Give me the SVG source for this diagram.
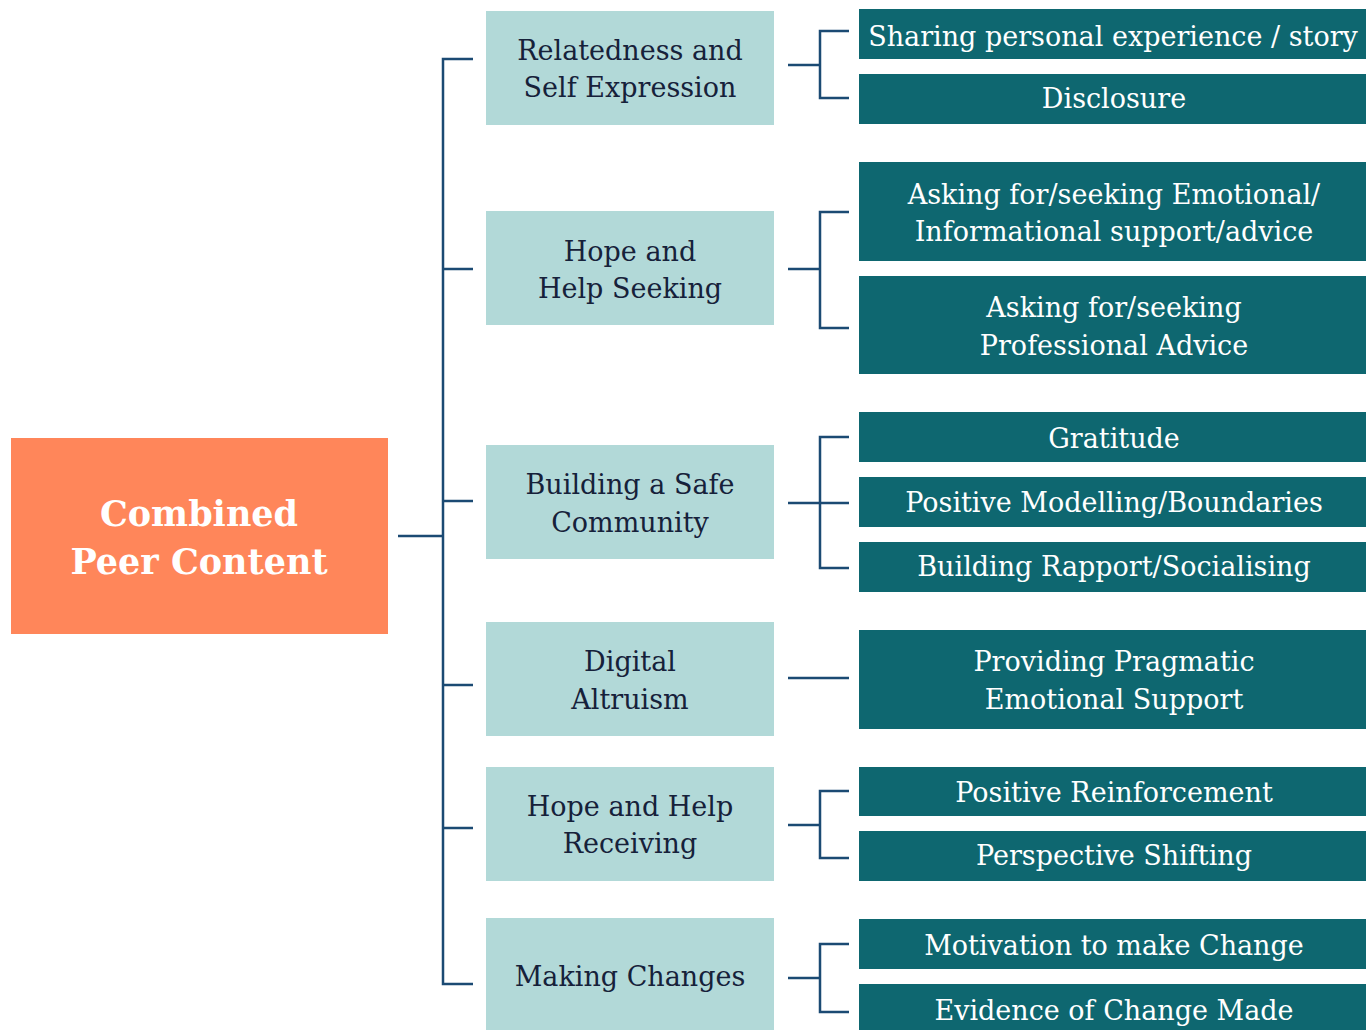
<svg xmlns="http://www.w3.org/2000/svg" width="1366" height="1030" viewBox="0 0 1366 1030">
  <style>
    .root { fill: #FF865A; }
    .cat { fill: #B2D9D8; }
    .leaf { fill: #0E6770; }
    .t { font-family: "DejaVu Serif", "Liberation Serif", serif; text-anchor: middle; }
    .tr { font-size: 35px; font-weight: bold; fill: #FFFFFF; }
    .tc { font-size: 27px; fill: #16213A; }
    .tl { font-size: 27px; fill: #FFFFFF; }
    .ln { fill: none; stroke: #1B4A73; stroke-width: 2.5; }
  </style>
  <rect width="1366" height="1030" fill="#FFFFFF"/>

  <!-- connectors -->
  <g id="connectors" class="ln">
    <!-- root to categories -->
    <path d="M398 536 H443"/>
    <path d="M473 59 H443 V984 H473"/>
    <path d="M443 269 H473"/>
    <path d="M443 501 H473"/>
    <path d="M443 685 H473"/>
    <path d="M443 828 H473"/>
    <!-- categories to items -->
    <path d="M788 65 H820"/>
    <path d="M849 31 H820 V98 H849"/>
    <path d="M788 269 H820"/>
    <path d="M849 212 H820 V328 H849"/>
    <path d="M788 503 H849"/>
    <path d="M849 437 H820 V568 H849"/>
    <path d="M788 678 H849"/>
    <path d="M788 825 H820"/>
    <path d="M849 791 H820 V858 H849"/>
    <path d="M788 978 H820"/>
    <path d="M849 944 H820 V1012 H849"/>
  </g>

  <!-- root -->
  <g id="root">
    <rect class="root" x="11" y="438" width="377" height="196"/>
    <text class="t tr" x="199" y="526">Combined</text>
    <text class="t tr" x="199" y="574">Peer Content</text>
  </g>

  <!-- categories -->
  <g id="cat-relatedness">
    <rect class="cat" x="486" y="11" width="288" height="114"/>
    <text class="t tc" x="630" y="60">Relatedness and</text>
    <text class="t tc" x="630" y="97">Self Expression</text>
  </g>
  <g id="cat-help-seeking">
    <rect class="cat" x="486" y="211" width="288" height="114"/>
    <text class="t tc" x="630" y="261">Hope and</text>
    <text class="t tc" x="630" y="298">Help Seeking</text>
  </g>
  <g id="cat-safe-community">
    <rect class="cat" x="486" y="445" width="288" height="114"/>
    <text class="t tc" x="630" y="494">Building a Safe</text>
    <text class="t tc" x="630" y="532">Community</text>
  </g>
  <g id="cat-altruism">
    <rect class="cat" x="486" y="622" width="288" height="114"/>
    <text class="t tc" x="630" y="671">Digital</text>
    <text class="t tc" x="630" y="709">Altruism</text>
  </g>
  <g id="cat-help-receiving">
    <rect class="cat" x="486" y="767" width="288" height="114"/>
    <text class="t tc" x="630" y="816">Hope and Help</text>
    <text class="t tc" x="630" y="853">Receiving</text>
  </g>
  <g id="cat-making-changes">
    <rect class="cat" x="486" y="918" width="288" height="112"/>
    <text class="t tc" x="630" y="986">Making Changes</text>
  </g>

  <!-- items -->
  <g id="item-sharing">
    <rect class="leaf" x="859" y="9" width="507" height="50"/>
    <text class="t tl" x="1113" y="46">Sharing personal experience / story</text>
  </g>
  <g id="item-disclosure">
    <rect class="leaf" x="859" y="74" width="507" height="50"/>
    <text class="t tl" x="1114" y="108">Disclosure</text>
  </g>
  <g id="item-emotional-support">
    <rect class="leaf" x="859" y="162" width="507" height="99"/>
    <text class="t tl" x="1114" y="204">Asking for/seeking Emotional/</text>
    <text class="t tl" x="1114" y="241">Informational support/advice</text>
  </g>
  <g id="item-professional">
    <rect class="leaf" x="859" y="276" width="507" height="98"/>
    <text class="t tl" x="1114" y="317">Asking for/seeking</text>
    <text class="t tl" x="1114" y="355">Professional Advice</text>
  </g>
  <g id="item-gratitude">
    <rect class="leaf" x="859" y="412" width="507" height="50"/>
    <text class="t tl" x="1114" y="448">Gratitude</text>
  </g>
  <g id="item-modelling">
    <rect class="leaf" x="859" y="477" width="507" height="50"/>
    <text class="t tl" x="1114" y="512">Positive Modelling/Boundaries</text>
  </g>
  <g id="item-rapport">
    <rect class="leaf" x="859" y="542" width="507" height="50"/>
    <text class="t tl" x="1114" y="576">Building Rapport/Socialising</text>
  </g>
  <g id="item-pragmatic">
    <rect class="leaf" x="859" y="630" width="507" height="99"/>
    <text class="t tl" x="1114" y="671">Providing Pragmatic</text>
    <text class="t tl" x="1114" y="709">Emotional Support</text>
  </g>
  <g id="item-reinforcement">
    <rect class="leaf" x="859" y="767" width="507" height="49"/>
    <text class="t tl" x="1114" y="802">Positive Reinforcement</text>
  </g>
  <g id="item-perspective">
    <rect class="leaf" x="859" y="831" width="507" height="50"/>
    <text class="t tl" x="1114" y="865">Perspective Shifting</text>
  </g>
  <g id="item-motivation">
    <rect class="leaf" x="859" y="919" width="507" height="50"/>
    <text class="t tl" x="1114" y="955">Motivation to make Change</text>
  </g>
  <g id="item-evidence">
    <rect class="leaf" x="859" y="984" width="507" height="46"/>
    <text class="t tl" x="1114" y="1020">Evidence of Change Made</text>
  </g>
</svg>
